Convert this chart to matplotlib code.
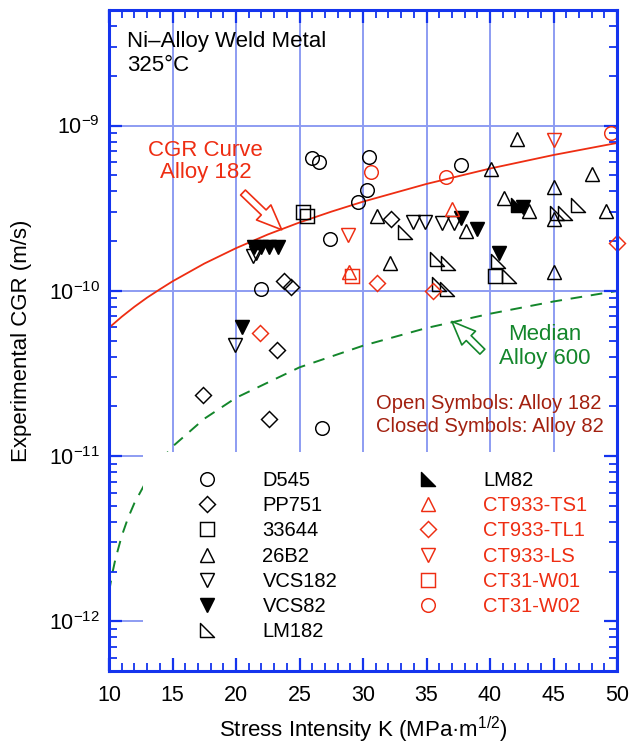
import numpy as np
import matplotlib
matplotlib.use('Agg')
import matplotlib.pyplot as plt
from matplotlib.path import Path
from matplotlib.patches import Rectangle, FancyArrowPatch
from matplotlib.ticker import (FixedLocator, LogLocator, NullFormatter,
                               FuncFormatter, MultipleLocator)

plt.rcParams['font.family'] = ['Liberation Sans', 'DejaVu Sans']
plt.rcParams['mathtext.fontset'] = 'custom'
plt.rcParams['mathtext.rm'] = 'Liberation Sans'
plt.rcParams['mathtext.it'] = 'Liberation Sans:italic'
plt.rcParams['mathtext.bf'] = 'Liberation Sans:bold'

BLUE = '#1434ee'
GRID = '#8d9cf2'
RED = '#ee2d12'
GREEN = '#13862b'
DARKRED = '#a2200f'

# ---------------- data (K in MPa m^1/2, CGR in m/s) ----------------
d545_k = [26.0, 26.5, 30.5, 30.3, 29.6, 27.4, 22.0, 37.7, 26.8]
d545_cgr = [6.35e-10, 6.05e-10, 6.45e-10, 4.05e-10, 3.45e-10, 2.07e-10, 1.02e-10, 5.75e-10, 1.47e-11]

pp751_k = [32.2, 23.8, 24.3, 23.2, 17.4, 22.6]
pp751_cgr = [2.72e-10, 1.14e-10, 1.05e-10, 4.36e-11, 2.35e-11, 1.68e-11]

s33644_k = [25.3, 25.6, 40.4]
s33644_cgr = [3.0e-10, 2.82e-10, 1.22e-10]

b26b2_k = [42.1, 40.1, 48.0, 45.0, 41.1, 31.1, 43.1, 49.1, 45.0, 38.1, 32.1, 45.0]
b26b2_cgr = [8.3e-10, 5.45e-10, 5.1e-10, 4.25e-10, 3.65e-10, 2.83e-10, 3.03e-10, 3.02e-10,
             2.7e-10, 2.3e-10, 1.48e-10, 1.3e-10]

vcs182_k = [33.9, 34.9, 36.2, 37.2, 21.3, 21.6, 19.9]
vcs182_cgr = [2.6e-10, 2.6e-10, 2.57e-10, 2.57e-10, 1.62e-10, 1.7e-10, 4.72e-11]

vcs82_k = [21.4, 22.0, 22.6, 23.3, 20.5, 37.7, 39.0, 42.6, 40.7]
vcs82_cgr = [1.85e-10, 1.83e-10, 1.85e-10, 1.83e-10, 6.0e-11, 2.75e-10, 2.37e-10, 3.2e-10, 1.69e-10]

lm182_k = [33.3, 35.8, 36.7, 36.0, 36.6, 40.6, 41.5, 45.3, 45.9, 46.9]
lm182_cgr = [2.27e-10, 1.56e-10, 1.47e-10, 1.1e-10, 1.03e-10, 1.52e-10, 1.22e-10, 2.96e-10,
             2.96e-10, 3.3e-10]

lm82_k = [42.2]
lm82_cgr = [3.3e-10]

ts1_k = [37.0, 28.9]
ts1_cgr = [3.12e-10, 1.3e-10]

tl1_k = [21.9, 31.1, 35.5, 50.0]
tl1_cgr = [5.56e-11, 1.12e-10, 1.0e-10, 1.95e-10]

ls_k = [45.0, 28.8]
ls_cgr = [8.2e-10, 2.17e-10]

w01_k = [29.1]
w01_cgr = [1.22e-10]

w02_k = [30.6, 36.5, 49.5]
w02_cgr = [5.24e-10, 4.87e-10, 9.05e-10]

# CGR curve for Alloy 182
curve182_k = [10, 11, 12, 13, 14, 15, 17.5, 20, 22.5, 25, 27.5, 30, 35, 40, 45, 50]
curve182_cgr = [5.97e-11, 6.96e-11, 8.0e-11, 9.09e-11, 1.02e-10, 1.14e-10, 1.46e-10, 1.81e-10,
                2.19e-10, 2.59e-10, 3.01e-10, 3.46e-10, 4.43e-10, 5.49e-10, 6.63e-10, 7.84e-10]

# Median Alloy 600
median600_k = [10, 10.25, 10.5, 11, 11.5, 12, 13, 14, 15, 17.5, 20, 25, 30, 35, 40, 45, 50]
median600_cgr = [1.5e-12, 1.93e-12, 2.37e-12, 3.28e-12, 4.22e-12, 5.19e-12, 7.18e-12, 9.24e-12,
                 1.14e-11, 1.68e-11, 2.25e-11, 3.44e-11, 4.65e-11, 5.95e-11, 7.26e-11, 8.61e-11,
                 9.97e-11]

grid_k = [15, 20, 25, 30, 35, 40, 45]
grid_cgr = [1e-12, 1e-11, 1e-10, 1e-9]

# ---------------- figure ----------------
fig = plt.figure(figsize=(6.3, 7.46), dpi=100)
ax = fig.add_axes([109 / 630, 1 - 671 / 746, 508 / 630, 661 / 746])
ax.set_yscale('log')
ax.set_xlim(10, 50)
ax.set_ylim(5e-13, 5e-9)

for k in grid_k:
    ax.axvline(k, color=GRID, lw=1.4, zorder=1)
for c in grid_cgr:
    ax.axhline(c, color=GRID, lw=1.4, zorder=1)

ax.plot(curve182_k, curve182_cgr, color=RED, lw=1.3, zorder=2)
ax.plot(median600_k, median600_cgr, color=GREEN, lw=1.4, dashes=(6, 4.5), zorder=1.2)

# white area behind the legend
ax.add_patch(Rectangle((12.65, 5e-13), 50 - 12.65, 1.06e-11 - 5e-13,
                       facecolor='white', edgecolor='none', zorder=1.5))

rtri = Path([(-1, 1), (-1, -1), (1, -1), (-1, 1)],
            [Path.MOVETO, Path.LINETO, Path.LINETO, Path.CLOSEPOLY])

mew = 1.05
series = [
    (d545_k, d545_cgr, 'o', 9.8, 'k', 'none', 'D545'),
    (pp751_k, pp751_cgr, 'D', 8.0, 'k', 'none', 'PP751'),
    (s33644_k, s33644_cgr, 's', 9.5, 'k', 'none', '33644'),
    (b26b2_k, b26b2_cgr, '^', 10.5, 'k', 'none', '26B2'),
    (vcs182_k, vcs182_cgr, 'v', 10.5, 'k', 'none', 'VCS182'),
    (vcs82_k, vcs82_cgr, 'v', 10.5, 'k', 'k', 'VCS82'),
    (lm182_k, lm182_cgr, rtri, 10.5, 'k', 'none', 'LM182'),
    (lm82_k, lm82_cgr, rtri, 10.5, 'k', 'k', 'LM82'),
    (ts1_k, ts1_cgr, '^', 10.5, RED, 'none', 'CT933-TS1'),
    (tl1_k, tl1_cgr, 'D', 8.0, RED, 'none', 'CT933-TL1'),
    (ls_k, ls_cgr, 'v', 10.5, RED, 'none', 'CT933-LS'),
    (w01_k, w01_cgr, 's', 9.5, RED, 'none', 'CT31-W01'),
    (w02_k, w02_cgr, 'o', 9.8, RED, 'none', 'CT31-W02'),
]
handles = []
labels = []
label_colors = []
for kx, cy, mk, ms, ec, fc, lab in series:
    h, = ax.plot(kx, cy, linestyle='none', marker=mk, ms=ms, mec=ec, mfc=fc,
                 mew=mew, zorder=3, clip_on=False, label=lab)
    handles.append(h)
    labels.append(lab)
    label_colors.append(RED if lab.startswith('CT') else 'black')

leg = ax.legend(handles, labels, ncol=2, loc='upper left',
                bbox_to_anchor=(0.1535, 0.3026), frameon=False, fontsize=14.5,
                handlelength=2.0, handletextpad=1.75, columnspacing=3.5,
                labelspacing=0.31, borderpad=0, borderaxespad=0)
for t, c in zip(leg.get_texts(), label_colors):
    t.set_color(c)

# annotations
ax.text(0.036, 0.968, 'Ni\u2013Alloy Weld Metal\n325\u00b0C', transform=ax.transAxes,
        ha='left', va='top', fontsize=16, color='black', linespacing=1.2)
ax.text(17.6, 6.05e-10, 'CGR Curve\nAlloy 182', ha='center', va='center',
        fontsize=16, color=RED, linespacing=1.1)
ax.text(44.3, 4.6e-11, 'Median\nAlloy 600', ha='center', va='center',
        fontsize=16, color=GREEN, linespacing=1.2)
ax.text(31.0, 1.77e-11, 'Open Symbols: Alloy 182\nClosed Symbols: Alloy 82',
        ha='left', va='center', fontsize=14.5, color=DARKRED, linespacing=1.25)

ax.add_patch(FancyArrowPatch((20.55, 3.93e-10), (23.6, 2.34e-10),
                             arrowstyle='simple,head_length=18,head_width=15,tail_width=5',
                             mutation_scale=1, fc='white', ec=RED, lw=1.2, zorder=4,
                             shrinkA=0, shrinkB=0))
ax.add_patch(FancyArrowPatch((39.4, 4.28e-11), (37.0, 6.52e-11),
                             arrowstyle='simple,head_length=17,head_width=14,tail_width=5',
                             mutation_scale=1, fc='white', ec=GREEN, lw=1.2, zorder=4,
                             shrinkA=0, shrinkB=0))

# axes styling
ax.xaxis.set_major_locator(MultipleLocator(5))
ax.xaxis.set_minor_locator(MultipleLocator(1))
ax.yaxis.set_major_locator(FixedLocator(grid_cgr))
ax.yaxis.set_minor_locator(LogLocator(base=10, subs=np.arange(2, 10), numticks=50))
ax.yaxis.set_major_formatter(FuncFormatter(
    lambda v, p: r'$\mathregular{10^{%d}}$' % int(round(np.log10(v)))))
ax.yaxis.set_minor_formatter(NullFormatter())

ax.tick_params(which='both', direction='in', top=True, right=True, color=BLUE,
               labelcolor='black')
ax.tick_params(which='major', length=9.4, width=1.6)
ax.tick_params(which='minor', length=6.0, width=1.3)
ax.tick_params(axis='x', which='major', pad=10.0, labelsize=15.5)
ax.tick_params(axis='y', which='major', pad=6.5, labelsize=15.5)
for s in ax.spines.values():
    s.set_color(BLUE)
    s.set_linewidth(2.2)
    s.set_zorder(6)

ax.set_xlabel('Stress Intensity K (MPa\u00b7m$^{\\mathregular{1/2}}$)', fontsize=16)
ax.set_ylabel('Experimental CGR (m/s)', fontsize=16)
ax.xaxis.set_label_coords(0.5, -0.066)
ax.yaxis.set_label_coords(-0.152, 0.5)

fig.savefig('out.png', dpi=100)
